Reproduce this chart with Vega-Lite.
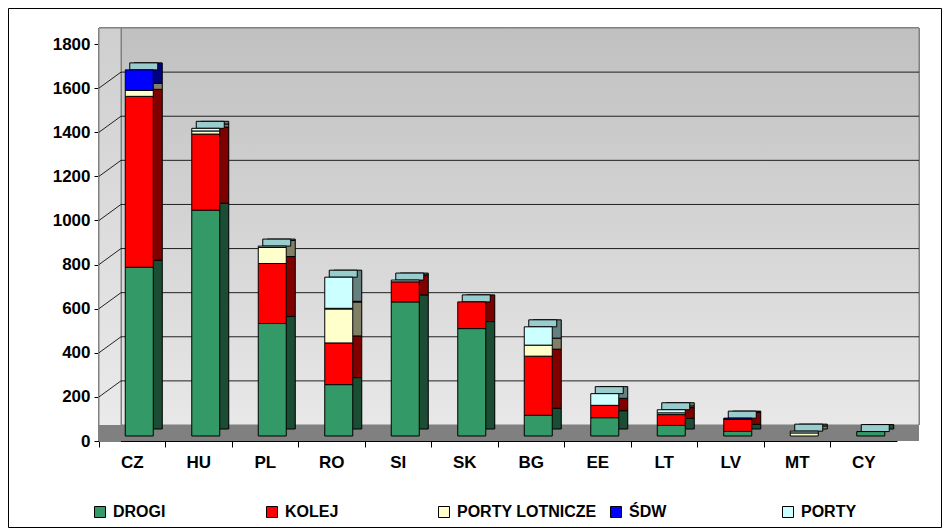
{
  "$schema": "https://vega.github.io/schema/vega-lite/v6.json",
  "width": 933,
  "height": 519,
  "autosize": {"type": "none"},
  "padding": {"left": 8, "top": 8, "right": 8, "bottom": 1},
  "background": "white",
  "data": {
    "values": [
      {"kraj": "CZ", "typ": "DROGI", "k": 1, "v": 765},
      {"kraj": "CZ", "typ": "KOLEJ", "k": 2, "v": 775},
      {"kraj": "CZ", "typ": "PORTY LOTNICZE", "k": 3, "v": 27},
      {"kraj": "CZ", "typ": "ŚDW", "k": 4, "v": 93},
      {"kraj": "HU", "typ": "DROGI", "k": 1, "v": 1024},
      {"kraj": "HU", "typ": "KOLEJ", "k": 2, "v": 345},
      {"kraj": "HU", "typ": "PORTY LOTNICZE", "k": 3, "v": 14},
      {"kraj": "HU", "typ": "PORTY", "k": 5, "v": 12},
      {"kraj": "PL", "typ": "DROGI", "k": 1, "v": 510},
      {"kraj": "PL", "typ": "KOLEJ", "k": 2, "v": 272},
      {"kraj": "PL", "typ": "PORTY LOTNICZE", "k": 3, "v": 73},
      {"kraj": "PL", "typ": "PORTY", "k": 5, "v": 6},
      {"kraj": "RO", "typ": "DROGI", "k": 1, "v": 233},
      {"kraj": "RO", "typ": "KOLEJ", "k": 2, "v": 189},
      {"kraj": "RO", "typ": "PORTY LOTNICZE", "k": 3, "v": 154},
      {"kraj": "RO", "typ": "ŚDW", "k": 4, "v": 3},
      {"kraj": "RO", "typ": "PORTY", "k": 5, "v": 141},
      {"kraj": "SI", "typ": "DROGI", "k": 1, "v": 608},
      {"kraj": "SI", "typ": "KOLEJ", "k": 2, "v": 91},
      {"kraj": "SI", "typ": "PORTY", "k": 5, "v": 8},
      {"kraj": "SK", "typ": "DROGI", "k": 1, "v": 487},
      {"kraj": "SK", "typ": "KOLEJ", "k": 2, "v": 121},
      {"kraj": "BG", "typ": "DROGI", "k": 1, "v": 94},
      {"kraj": "BG", "typ": "KOLEJ", "k": 2, "v": 268},
      {"kraj": "BG", "typ": "PORTY LOTNICZE", "k": 3, "v": 50},
      {"kraj": "BG", "typ": "PORTY", "k": 5, "v": 83},
      {"kraj": "EE", "typ": "DROGI", "k": 1, "v": 83},
      {"kraj": "EE", "typ": "KOLEJ", "k": 2, "v": 56},
      {"kraj": "EE", "typ": "PORTY", "k": 5, "v": 53},
      {"kraj": "LT", "typ": "DROGI", "k": 1, "v": 48},
      {"kraj": "LT", "typ": "KOLEJ", "k": 2, "v": 49},
      {"kraj": "LT", "typ": "PORTY LOTNICZE", "k": 3, "v": 8},
      {"kraj": "LT", "typ": "PORTY", "k": 5, "v": 14},
      {"kraj": "LV", "typ": "DROGI", "k": 1, "v": 21},
      {"kraj": "LV", "typ": "KOLEJ", "k": 2, "v": 55},
      {"kraj": "LV", "typ": "ŚDW", "k": 4, "v": 5},
      {"kraj": "MT", "typ": "PORTY LOTNICZE", "k": 3, "v": 14},
      {"kraj": "MT", "typ": "PORTY", "k": 5, "v": 8},
      {"kraj": "CY", "typ": "DROGI", "k": 1, "v": 20}
    ]
  },
  "datasets": {
    "siatka": [{"g": 200}, {"g": 400}, {"g": 600}, {"g": 800}, {"g": 1000}, {"g": 1200}, {"g": 1400}, {"g": 1600}]
  },
  "config": {
    "font": "Liberation Sans",
    "view": {"stroke": "black", "strokeWidth": 1},
    "axis": {
      "labelFont": "Liberation Sans",
      "labelFontWeight": "bold",
      "labelFontSize": 17,
      "labelColor": "black",
      "domainColor": "black",
      "tickColor": "black"
    },
    "legend": {
      "labelFont": "Liberation Sans",
      "labelFontWeight": "bold",
      "labelFontSize": 16,
      "labelColor": "black"
    }
  },
  "resolve": {"axis": {"x": "independent"}},
  "layer": [
    {
      "mark": {
        "type": "rect", "xOffset": -11.25, "x2Offset": 55.25, "yOffset": -16, "y2Offset": -16,
        "stroke": "#808080", "strokeWidth": 1,
        "color": {
          "gradient": "linear", "x1": 0, "y1": 0, "x2": 0, "y2": 1,
          "stops": [{"offset": 0, "color": "#C0C0C0"}, {"offset": 1, "color": "#E8E8E8"}]
        }
      },
      "encoding": {
        "x": {"datum": "CZ", "type": "nominal", "axis": null,
              "scale": {"domain": ["CZ", "HU", "PL", "RO", "SI", "SK", "BG", "EE", "LT", "LV", "MT", "CY"],
                        "range": [91, 889], "paddingInner": 0, "paddingOuter": 0}},
        "x2": {"datum": "CY"},
        "y": {"datum": 0, "type": "quantitative",
              "scale": {"domain": [0, 1800], "nice": false, "range": [433, 36]},
              "axis": {"title": null, "values": [0, 200, 400, 600, 800, 1000, 1200, 1400, 1600, 1800],
                       "format": "d", "grid": false, "tickSize": 5, "offset": -91,
                       "labelPadding": 4, "domainColor": "#808080"}},
        "y2": {"datum": 1800}
      }
    },
    {
      "mark": {
        "type": "rect", "xOffset": -33.25, "x2Offset": -11.25, "y2Offset": -16,
        "stroke": "#808080", "strokeWidth": 1,
        "color": {
          "gradient": "linear", "x1": 0, "y1": 0, "x2": 0, "y2": 1,
          "stops": [{"offset": 0, "color": "#CFCFCF"}, {"offset": 1, "color": "#EBEBEB"}]
        }
      },
      "encoding": {
        "x": {"datum": "CZ", "type": "nominal", "axis": null},
        "x2": {"datum": "CZ"},
        "y": {"datum": 0, "type": "quantitative"},
        "y2": {"datum": 1800}
      }
    },
    {
      "mark": {"type": "rect", "xOffset": -33.25, "x2Offset": 55.25, "y2Offset": -16, "color": "#808080"},
      "encoding": {
        "x": {"datum": "CZ", "type": "nominal", "axis": null},
        "x2": {"datum": "CY"},
        "y": {"datum": 0, "type": "quantitative"},
        "y2": {"datum": 0}
      }
    },
    {
      "data": {"name": "siatka"},
      "mark": {"type": "rule", "color": "black", "strokeWidth": 1, "opacity": 0.85,
               "xOffset": -11.25, "x2Offset": 55.25, "yOffset": -16},
      "encoding": {
        "x": {"datum": "CZ", "type": "nominal", "axis": null},
        "x2": {"datum": "CY"},
        "y": {"field": "g", "type": "quantitative"}
      }
    },
    {
      "data": {"name": "siatka"},
      "mark": {"type": "rule", "color": "black", "strokeWidth": 1, "opacity": 0.85,
               "xOffset": -33.25, "x2Offset": -11.25, "y2Offset": -16},
      "encoding": {
        "x": {"datum": "CZ", "type": "nominal", "axis": null},
        "x2": {"datum": "CZ"},
        "y": {"field": "g", "type": "quantitative"},
        "y2": {"field": "g"}
      }
    },
    {
      "mark": {"type": "bar", "color": "black", "size": 28, "xOffset": 16, "yOffset": -12},
      "encoding": {
        "x": {"field": "kraj", "type": "nominal", "sort": null, "axis": null},
        "y": {"field": "v", "type": "quantitative", "stack": "zero"},
        "detail": {"field": "typ"},
        "order": {"field": "k"}
      }
    },
    {
      "mark": {"type": "bar", "size": 28, "xOffset": 16, "yOffset": -12, "fillOpacity": 0.5,
               "stroke": "black", "strokeWidth": 1},
      "encoding": {
        "x": {"field": "kraj", "type": "nominal", "sort": null, "axis": null},
        "y": {"field": "v", "type": "quantitative", "stack": "zero"},
        "color": {"field": "typ", "type": "nominal"},
        "order": {"field": "k"}
      }
    },
    {
      "transform": [{"aggregate": [{"op": "sum", "field": "v", "as": "total"}], "groupby": ["kraj"]}],
      "mark": {"type": "tick", "color": "#99CCCC", "opacity": 1, "size": 28, "thickness": 7,
               "xOffset": 11.5, "yOffset": -8.5, "stroke": "black", "strokeWidth": 1},
      "encoding": {
        "x": {"field": "kraj", "type": "nominal", "sort": null,
              "axis": {"title": null, "orient": "bottom", "offset": -86, "labels": false, "bandPosition": 0,
                       "tickSize": 6, "domain": true, "ticks": true}},
        "y": {"field": "total", "type": "quantitative"}
      }
    },
    {
      "mark": {"type": "bar", "size": 28, "xOffset": 7, "yOffset": -5, "stroke": "black", "strokeWidth": 1},
      "encoding": {
        "x": {"field": "kraj", "type": "nominal", "sort": null,
              "axis": {"title": null, "orient": "bottom", "offset": -86, "ticks": false, "tickSize": 0,
                       "domain": false, "labelPadding": 13, "labelAngle": 0}},
        "y": {"field": "v", "type": "quantitative", "stack": "zero"},
        "color": {
          "field": "typ", "type": "nominal",
          "scale": {
            "domain": ["DROGI", "KOLEJ", "PORTY LOTNICZE", "ŚDW", "PORTY"],
            "range": ["#339966", "#FF0000", "#FFFFCC", "#0000FF", "#CCFFFF"]
          },
          "legend": {
            "title": null, "orient": "none", "direction": "horizontal", "columns": 5,
            "gridAlign": "all", "columnPadding": 11, "legendX": 84, "legendY": 496,
            "symbolType": "square", "symbolSize": 121, "symbolStrokeColor": "black",
            "symbolStrokeWidth": 1, "symbolOpacity": 1, "labelOffset": 5, "padding": 0
          }
        },
        "order": {"field": "k"}
      }
    }
  ]
}
